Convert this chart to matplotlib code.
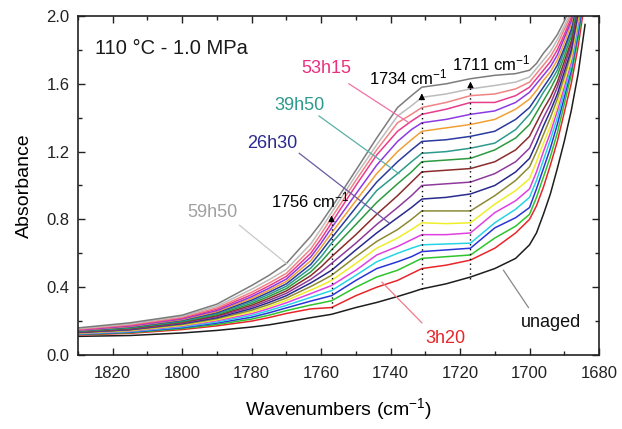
import numpy as np
import matplotlib
matplotlib.use("Agg")
import matplotlib.pyplot as plt
from matplotlib.ticker import MultipleLocator, FormatStrFormatter

plt.rcParams["font.family"] = ["Liberation Sans", "DejaVu Sans"]
plt.rcParams["mathtext.default"] = "regular"

wavenumber = [1830, 1815, 1800, 1790, 1780, 1775, 1770, 1763, 1760, 1757, 1750,
              1744, 1738, 1734, 1731, 1724, 1717, 1710, 1704, 1700, 1698, 1696,
              1694, 1692, 1690, 1688, 1686, 1684]

# absorbance of each of the 20 spectra (unaged -> 59h50) at each wavenumber
a1830 = [0.110, 0.118, 0.121, 0.123, 0.125, 0.127, 0.129, 0.131, 0.133, 0.135,
         0.137, 0.139, 0.141, 0.143, 0.145, 0.147, 0.150, 0.153, 0.156, 0.160]
a1815 = [0.115, 0.128, 0.132, 0.135, 0.138, 0.141, 0.144, 0.147, 0.150, 0.153,
         0.156, 0.159, 0.162, 0.165, 0.168, 0.171, 0.175, 0.179, 0.184, 0.190]
a1800 = [0.130, 0.150, 0.156, 0.161, 0.166, 0.171, 0.175, 0.180, 0.185, 0.189,
         0.193, 0.197, 0.201, 0.205, 0.209, 0.213, 0.218, 0.223, 0.229, 0.235]
a1790 = [0.145, 0.172, 0.180, 0.188, 0.195, 0.202, 0.208, 0.214, 0.220, 0.226,
         0.232, 0.238, 0.244, 0.250, 0.256, 0.262, 0.270, 0.278, 0.288, 0.300]
a1780 = [0.165, 0.200, 0.212, 0.223, 0.234, 0.244, 0.254, 0.264, 0.274, 0.284,
         0.294, 0.304, 0.314, 0.324, 0.334, 0.344, 0.356, 0.370, 0.388, 0.410]
a1775 = [0.178, 0.221, 0.235, 0.249, 0.262, 0.274, 0.286, 0.298, 0.310, 0.322,
         0.334, 0.346, 0.358, 0.370, 0.382, 0.394, 0.408, 0.424, 0.444, 0.470]
a1770 = [0.195, 0.245, 0.262, 0.278, 0.293, 0.308, 0.322, 0.336, 0.350, 0.364,
         0.378, 0.392, 0.406, 0.420, 0.434, 0.448, 0.464, 0.482, 0.505, 0.540]
a1763 = [0.220, 0.272, 0.295, 0.318, 0.340, 0.362, 0.383, 0.404, 0.425, 0.446,
         0.468, 0.490, 0.512, 0.534, 0.556, 0.578, 0.600, 0.625, 0.655, 0.700]
a1760 = [0.230, 0.276, 0.307, 0.334, 0.360, 0.386, 0.410, 0.436, 0.462, 0.490,
         0.520, 0.550, 0.580, 0.610, 0.635, 0.660, 0.685, 0.715, 0.745, 0.780]
a1757 = [0.24, 0.28, 0.32, 0.35, 0.38, 0.41, 0.44, 0.47, 0.50, 0.54,
         0.58, 0.62, 0.66, 0.69, 0.72, 0.75, 0.78, 0.81, 0.84, 0.87]
a1750 = [0.28, 0.35, 0.40, 0.44, 0.47, 0.50, 0.54, 0.58, 0.62, 0.66,
         0.71, 0.77, 0.82, 0.87, 0.91, 0.95, 1.00, 1.03, 1.06, 1.09]
a1744 = [0.31, 0.40, 0.46, 0.51, 0.55, 0.59, 0.63, 0.67, 0.72, 0.77,
         0.83, 0.90, 0.97, 1.02, 1.07, 1.12, 1.18, 1.21, 1.24, 1.28]
a1738 = [0.345, 0.44, 0.50, 0.55, 0.60, 0.64, 0.69, 0.74, 0.81, 0.87,
         0.94, 1.01, 1.07, 1.14, 1.20, 1.26, 1.32, 1.37, 1.41, 1.46]
a1734 = [0.37, 0.48, 0.54, 0.58, 0.63, 0.68, 0.74, 0.80, 0.87, 0.94,
         1.02, 1.08, 1.14, 1.21, 1.27, 1.33, 1.38, 1.42, 1.47, 1.53]
a1731 = [0.39, 0.51, 0.57, 0.61, 0.65, 0.71, 0.78, 0.85, 0.92, 1.00,
         1.08, 1.14, 1.19, 1.26, 1.32, 1.37, 1.42, 1.46, 1.52, 1.58]
a1724 = [0.42, 0.53, 0.58, 0.62, 0.655, 0.71, 0.775, 0.85, 0.93, 1.01,
         1.09, 1.15, 1.20, 1.27, 1.34, 1.39, 1.45, 1.49, 1.54, 1.60]
a1717 = [0.46, 0.56, 0.59, 0.63, 0.66, 0.72, 0.78, 0.85, 0.95, 1.02,
         1.10, 1.16, 1.22, 1.29, 1.36, 1.42, 1.49, 1.53, 1.57, 1.63]
a1710 = [0.51, 0.63, 0.69, 0.75, 0.78, 0.84, 0.89, 0.94, 1.00, 1.07,
         1.14, 1.21, 1.25, 1.32, 1.39, 1.44, 1.49, 1.54, 1.59, 1.65]
a1704 = [0.57, 0.72, 0.76, 0.81, 0.86, 0.91, 0.97, 1.03, 1.08, 1.14,
         1.21, 1.28, 1.33, 1.39, 1.45, 1.49, 1.53, 1.57, 1.61, 1.66]
a1700 = [0.65, 0.80, 0.83, 0.87, 0.93, 0.98, 1.04, 1.11, 1.16, 1.22,
         1.29, 1.36, 1.42, 1.46, 1.51, 1.55, 1.58, 1.61, 1.64, 1.68]
a1698 = [0.72, 0.88, 0.93, 0.98, 1.03, 1.08, 1.14, 1.20, 1.25, 1.31,
         1.37, 1.43, 1.48, 1.52, 1.56, 1.60, 1.63, 1.66, 1.69, 1.72]
a1696 = [0.83, 0.99, 1.05, 1.10, 1.15, 1.20, 1.25, 1.30, 1.35, 1.40,
         1.45, 1.50, 1.55, 1.58, 1.62, 1.65, 1.68, 1.71, 1.74, 1.78]
a1694 = [0.95, 1.12, 1.17, 1.22, 1.27, 1.31, 1.35, 1.40, 1.44, 1.48,
         1.52, 1.57, 1.61, 1.64, 1.67, 1.70, 1.73, 1.76, 1.79, 1.83]
a1692 = [1.10, 1.26, 1.31, 1.36, 1.40, 1.44, 1.47, 1.51, 1.54, 1.58,
         1.61, 1.65, 1.68, 1.71, 1.74, 1.77, 1.80, 1.83, 1.86, 1.89]
a1690 = [1.26, 1.43, 1.48, 1.52, 1.55, 1.58, 1.61, 1.64, 1.67, 1.70,
         1.73, 1.76, 1.79, 1.81, 1.84, 1.87, 1.89, 1.92, 1.94, 1.97]
a1688 = [1.44, 1.60, 1.65, 1.68, 1.70, 1.73, 1.75, 1.78, 1.80, 1.83,
         1.85, 1.88, 1.90, 1.92, 1.95, 1.97, 1.99, 2.01, 2.03, 2.06]
a1686 = [1.66, 1.82, 1.87, 1.90, 1.93, 1.96, 1.98, 2.00, 2.02, 2.05,
         2.07, 2.09, 2.11, 2.13, 2.15, 2.17, 2.19, 2.21, 2.23, 2.26]
a1684 = [1.95, 2.10, 2.14, 2.17, 2.20, 2.22, 2.24, 2.26, 2.28, 2.30,
         2.32, 2.34, 2.36, 2.38, 2.40, 2.42, 2.44, 2.46, 2.48, 2.50]

colors = ["#1e1e1e", "#e8262a", "#2ec42e", "#2a35d8", "#25d5e5", "#e040e0",
          "#eeee2a", "#8c8a35", "#2a2a8e", "#8e3a9c", "#8a2c2c", "#2d9a40",
          "#2e9a8c", "#2a3a9e", "#f0a035", "#8c3ae2", "#e83c8c", "#f08484",
          "#bcbcbc", "#7c7c7c"]

# labelled curves
labels = ["unaged", "3h20", "26h30", "39h50", "53h15", "59h50"]
label_colors = ["#111111", "#e8262a", "#2a2a8e", "#2e9a8c", "#e8307e", "#a0a0a0"]
leader_colors = ["#888888", "#f07a8a", "#6a5aa0", "#5ab0a8", "#f070a8", "#c8c8c8"]

# band positions (arrows)
band_wn = [1757, 1731, 1717]
band_low = [0.28, 0.39, 0.45]
band_tip = [0.84, 1.56, 1.63]
band_text = ["1756 cm$^{-1}$", "1734 cm$^{-1}$", "1711 cm$^{-1}$"]

spectra = np.array([a1830, a1815, a1800, a1790, a1780, a1775, a1770, a1763,
                    a1760, a1757, a1750, a1744, a1738, a1734, a1731, a1724,
                    a1717, a1710, a1704, a1700, a1698, a1696, a1694, a1692,
                    a1690, a1688, a1686, a1684]).T

fig = plt.figure(figsize=(6.22, 4.29), dpi=100)
ax = fig.add_axes([0.1254, 0.1725, 0.8376, 0.7902])

for i in range(len(colors)):
    ax.plot(wavenumber, spectra[i], color=colors[i], lw=1.1)

ax.set_xlim(1830, 1680)
ax.set_ylim(0, 2.0)
ax.xaxis.set_major_locator(MultipleLocator(20))
ax.xaxis.set_minor_locator(MultipleLocator(10))
ax.yaxis.set_major_locator(MultipleLocator(0.4))
ax.yaxis.set_minor_locator(MultipleLocator(0.2))
ax.yaxis.set_major_formatter(FormatStrFormatter("%.1f"))
ax.tick_params(which="both", direction="in", top=True, right=True,
               labelsize=12, width=1.0, colors="#222222")
ax.tick_params(axis="x", which="major", length=5, pad=8)
ax.tick_params(axis="y", which="major", length=5, pad=6)
ax.tick_params(which="minor", length=3)
for s in ax.spines.values():
    s.set_linewidth(1.2)
    s.set_color("#222222")

ax.set_xlabel("Wavenumbers (cm$^{-1}$)", fontsize=14, labelpad=11)
ax.set_ylabel("Absorbance", fontsize=14, labelpad=10)

ax.text(1825, 1.81, "110 °C - 1.0 MPa", fontsize=14.5, va="center", ha="left",
        color="#1a1a1a")

# dotted band markers with arrow heads
for wn, lo, tip in zip(band_wn, band_low, band_tip):
    ax.plot([wn, wn], [lo, tip - 0.04], ls=(0, (1, 2.5)), color="k", lw=1.0)
    ax.annotate("", xy=(wn, tip), xytext=(wn, tip - 0.07),
                arrowprops=dict(arrowstyle="-|>", color="k", lw=0.8,
                                mutation_scale=9))
ax.text(1774.3, 0.91, band_text[0], fontsize=12, va="center", ha="left")
ax.text(1746.2, 1.64, band_text[1], fontsize=12, va="center", ha="left")
ax.text(1722.4, 1.72, band_text[2], fontsize=12, va="center", ha="left")

# curve labels with leader lines
text_pos = [(1693.7, 0.19), (1724.1, 0.10), (1774.0, 1.25),
            (1766.3, 1.47), (1758.6, 1.69), (1791.3, 0.84)]
leader = [((1700.3, 0.28), (1707.5, 0.50)),
          ((1731.0, 0.19), (1742.5, 0.43)),
          ((1766.3, 1.19), (1740.5, 0.78)),
          ((1760.6, 1.41), (1737.6, 1.07)),
          ((1752.0, 1.60), (1734.7, 1.37)),
          ((1783.5, 0.765), (1770.0, 0.54))]
for lab, c, lc, (tx, ty), (p0, p1) in zip(labels, label_colors, leader_colors,
                                          text_pos, leader):
    ax.text(tx, ty, lab, color=c, fontsize=13, ha="center", va="center")
    ax.plot([p0[0], p1[0]], [p0[1], p1[1]], color=lc, lw=0.9)

fig.savefig("out.png", dpi=100)
